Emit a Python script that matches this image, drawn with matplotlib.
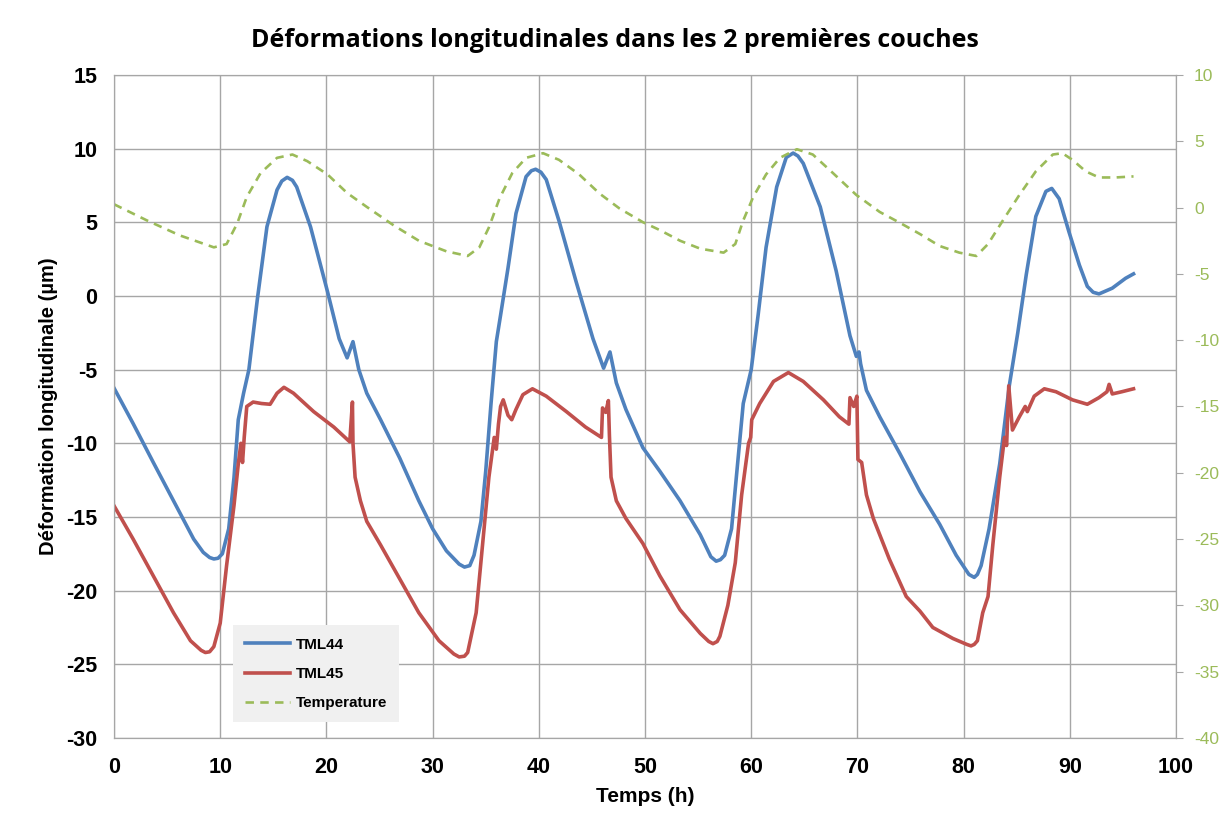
import matplotlib.pyplot as plt

plt.rcParams["axes.unicode_minus"] = False
plt.rcParams["font.family"] = ["Liberation Sans", "DejaVu Sans"]

# TML44 (left axis, µm)
t44 = [0, 1.8, 3.7, 5.6, 7.5, 8.4, 9.0, 9.4, 9.8, 10.2, 10.8, 11.3, 11.7, 12.2, 12.7, 13.5, 14.4, 15.35,
       15.8, 16.3, 16.8, 17.2, 18.5, 20.1, 21.2, 21.95, 22.5, 23.05, 23.8, 25.1, 26.9, 28.7, 30, 31.3,
       32.5, 33.0, 33.5, 33.9, 34.55, 35.0, 35.5, 36.0, 36.4, 37.1, 37.85, 38.8, 39.3, 39.7, 40.2, 40.7,
       41.9, 43.5, 45.1, 46.1, 46.7, 47.3, 48.2, 49.8, 51.4, 53.3, 55.2, 56.2, 56.7, 57.1, 57.5, 58.15,
       58.6, 59.25, 60.0, 60.65, 61.4, 62.4, 63.3, 63.95, 64.4, 64.9, 66.5, 68.0, 69.3, 69.9, 70.15,
       70.3, 70.85, 72.1, 74.0, 75.9, 77.75, 79.3, 80.5, 81.0, 81.3, 81.65, 82.4, 83.4, 84.3, 85.1,
       85.9, 86.8, 87.75, 88.3, 89.0, 89.9, 90.9, 91.65, 92.2, 92.75, 94.0, 95.25, 96.0]
v44 = [-6.25, -8.66, -11.3, -13.9, -16.5, -17.4, -17.75, -17.85, -17.8, -17.5, -15.8, -12.3, -8.4, -6.6, -5.0, -0.2, 4.7, 7.2,
       7.8, 8.05, 7.85, 7.4, 4.7, 0.3, -2.9, -4.2, -3.1, -5.0, -6.6, -8.4, -11.0, -13.9, -15.8, -17.3,
       -18.2, -18.4, -18.3, -17.6, -15.3, -11.9, -7.3, -3.1, -1.3, 1.9, 5.6, 8.1, 8.5, 8.6, 8.4, 7.9,
       5.1, 1.0, -2.9, -4.9, -3.8, -5.9, -7.7, -10.3, -11.9, -13.9, -16.2, -17.7, -18.0, -17.9, -17.6, -15.8,
       -12.3, -7.3, -5.0, -1.3, 3.3, 7.4, 9.4, 9.7, 9.5, 9.0, 6.05, 1.7, -2.7, -4.1, -3.8,
       -4.6, -6.4, -8.2, -10.7, -13.3, -15.5, -17.6, -18.9, -19.1, -18.9, -18.3, -15.8, -11.4, -6.1, -2.5,
       1.45, 5.4, 7.1, 7.3, 6.6, 4.4, 2.1, 0.65, 0.25, 0.14, 0.53, 1.2, 1.5]

# TML45 (left axis, µm)
t45 = [0, 1.8, 3.7, 5.6, 7.2, 8.2, 8.6, 9.0, 9.4, 10.0, 10.6, 11.3, 11.7, 11.95, 12.1, 12.26, 12.5, 13.1,
       13.9, 14.7, 15.35, 16.0, 16.9, 18.8, 20.7, 22.2, 22.45, 22.5, 22.7, 23.2, 23.8, 25.1,
       26.9, 28.7, 30.6, 32.0, 32.5, 33.0, 33.3, 34.1, 34.7, 35.3, 35.8, 36.0, 36.2, 36.4, 36.65, 37.1,
       37.45, 37.85, 38.5, 39.4, 40.7, 42.6, 44.4, 45.9, 46.0, 46.3, 46.55, 46.65, 46.8,
       47.3, 48.2, 49.8, 51.4, 53.3, 55.2, 56.0, 56.4, 56.8, 57.05, 57.8, 58.5, 59.1, 59.75, 59.95,
       60.05, 60.8, 62.1, 63.5, 64.9, 66.8, 68.3, 69.2, 69.3, 69.65, 69.95, 70.05, 70.4,
       70.85, 71.5, 73.0, 74.6, 75.9, 77.1, 79.0, 80.3, 80.7, 81.0, 81.3, 81.8, 82.3, 82.75, 83.4,
       83.85, 84.05, 84.25, 84.6, 85.25, 85.8, 86.0, 86.65, 87.6, 88.7, 90.25, 91.65,
       92.75, 93.5, 93.7, 94.0, 94.9, 96.0]
v45 = [-14.24, -16.5, -19.0, -21.5, -23.4, -24.05, -24.2, -24.15, -23.8, -22.2, -18.3, -14.2, -11.4, -10.0, -11.3, -9.6, -7.5, -7.2,
       -7.3, -7.35, -6.6, -6.2, -6.6, -7.85, -8.9, -9.9, -7.2, -10.0, -12.3, -13.9, -15.3, -16.9,
       -19.2, -21.5, -23.4, -24.3, -24.5, -24.45, -24.2, -21.5, -16.9, -12.3, -9.6, -10.4, -8.7, -7.5, -7.05, -8.1,
       -8.4, -7.7, -6.7, -6.3, -6.8, -7.85, -8.9, -9.6, -7.6, -7.9, -7.1, -9.5, -12.3,
       -13.9, -15.1, -16.8, -19.0, -21.3, -22.9, -23.45, -23.6, -23.45, -23.1, -21.0, -18.1, -13.5, -10.0, -9.6,
       -8.4, -7.3, -5.8, -5.2, -5.8, -7.05, -8.2, -8.7, -6.9, -7.5, -6.8, -11.1, -11.3,
       -13.5, -15.1, -17.85, -20.4, -21.4, -22.5, -23.25, -23.65, -23.75, -23.65, -23.4, -21.5, -20.4, -16.9, -12.3,
       -9.6, -10.15, -6.1, -9.1, -8.2, -7.5, -7.85, -6.8, -6.3, -6.5, -7.05, -7.35,
       -6.9, -6.5, -6.0, -6.65, -6.5, -6.3]

# Temperature (right axis, °C)
t_temp = [0, 3.1, 6.2, 9.4, 10.6, 11.6, 12.5, 13.8, 15.35, 16.8, 18.2, 20.1, 21.95, 23.8, 26.35,
          28.7, 31.3, 33.3, 34.4, 35.3, 36.3, 37.5, 38.8, 40.4, 41.9, 43.8, 45.7, 47.6, 49.8,
          51.4, 53.3, 55.2, 57.4, 58.5, 59.25, 60.2, 61.4, 62.7, 64.3, 65.8, 67.7, 69.9, 72.1,
          74.0, 75.9, 77.75, 79.6, 81.2, 82.3, 83.7, 85.25, 86.8, 88.4, 89.3, 90.25, 91.5,
          92.75, 94.3, 96.0]
v_temp = [0.25, -0.97, -2.1, -3.0, -2.75, -1.2, 0.8, 2.6, 3.75, 4.0, 3.5, 2.5, 1.1, 0.05, -1.35,
          -2.5, -3.3, -3.65, -3.0, -1.5, 0.69, 2.6, 3.75, 4.1, 3.6, 2.5, 1.07, -0.07, -1.1,
          -1.7, -2.5, -3.1, -3.4, -2.75, -0.97, 0.82, 2.5, 3.75, 4.4, 4.0, 2.6, 0.95, -0.33,
          -1.15, -2.0, -2.9, -3.4, -3.65, -2.75, -0.97, 0.95, 2.73, 4.0, 4.1, 3.6, 2.73,
          2.27, 2.27, 2.35]

BLUE = "#4F81BD"
RED = "#C0504D"
GREEN = "#9BBB59"
GRID = "#A6A6A6"

fig = plt.figure(figsize=(12.3, 8.14), dpi=100)
ax = fig.add_axes([0.0927, 0.0934, 0.8634, 0.8145])
ax2 = ax.twinx()

l1, = ax.plot(t44, v44, color=BLUE, lw=2.6, label="TML44", solid_joinstyle="round")
l2, = ax.plot(t45, v45, color=RED, lw=2.6, label="TML45", solid_joinstyle="round")
l3, = ax2.plot(t_temp, v_temp, color=GREEN, lw=1.9, ls=(0, (3.2, 2.4)), label="Temperature")

ax.set_xlim(0, 100)
ax.set_ylim(-30, 15)
ax2.set_ylim(-40, 10)
ax.set_xticks(range(0, 101, 10))
ax.set_yticks(range(-30, 16, 5))
ax2.set_yticks(range(-40, 11, 5))

ax.grid(True, color=GRID, lw=1)
ax.set_axisbelow(True)
for a in (ax, ax2):
    for s in a.spines.values():
        s.set_color(GRID)
ax.tick_params(axis="both", length=0, labelsize=15.5)
ax.tick_params(axis="x", pad=14)
ax.tick_params(axis="y", pad=12)
for lab in ax.get_xticklabels() + ax.get_yticklabels():
    lab.set_fontweight("bold")
ax2.tick_params(axis="y", length=5, color=GRID, labelsize=12.5, labelcolor=GREEN, pad=8)

ax.set_xlabel("Temps (h)", fontsize=15, fontweight="bold", labelpad=6)
ax.set_ylabel("Déformation longitudinale (µm)", fontsize=14.5, fontweight="bold", labelpad=6)
fig.suptitle("Déformations longitudinales dans les 2 premières couches",
             fontsize=18, fontweight="bold", y=0.966, family="Open Sans")

leg = ax.legend(handles=[l1, l2, l3], loc="lower left", bbox_to_anchor=(0.105, 0.012),
                frameon=True, fancybox=False, prop={"weight": "bold", "size": 11},
                handlelength=2.9, handletextpad=0.4, labelspacing=1.0, borderpad=0.8)
leg.get_frame().set_facecolor("#F0F0F0")
leg.get_frame().set_edgecolor("none")
leg.get_frame().set_alpha(1)

fig.savefig("out.png", dpi=100)
